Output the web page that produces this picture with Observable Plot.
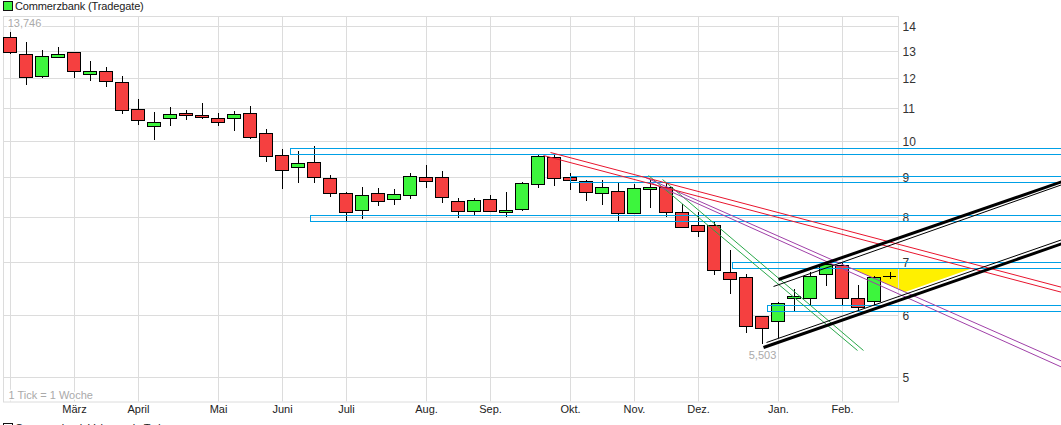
<!DOCTYPE html>
<html><head><meta charset="utf-8">
<script src="https://cdn.jsdelivr.net/npm/d3@7"></script>
<script src="https://cdn.jsdelivr.net/npm/@observablehq/plot@0.6"></script>
<style>
html,body{margin:0;padding:0;background:#fff;overflow:hidden;font-family:"Liberation Sans",Arial,sans-serif}
.lg{height:14px;position:relative;font-size:11px;line-height:13px;color:#222;white-space:nowrap}
.lg i{position:absolute;left:3px;top:1px;width:8px;height:8px;border:1px solid #111;background:#3df53d}
.lg span{position:absolute;left:15px;top:0;letter-spacing:-0.13px}
#cap{height:4px;overflow:hidden}
#cap i{top:2px;background:#fff}
#cap span{top:1px}
svg{display:block}
</style></head><body>
<div class="lg"><i></i><span>Commerzbank (Tradegate)</span></div>
<div id="chart"></div>
<div class="lg" id="cap"><i></i><span>Commerzbank Volumen in Tsd.</span></div>
<script>
// weekly candles
const open=[13.540,12.881,12.098,12.791,12.957,12.147,12.255,11.866,10.963,10.429,
10.677,10.835,10.771,10.677,10.677,10.835,10.217,9.579,9.248,9.384,
8.954,8.569,8.152,8.569,8.420,8.519,8.981,8.981,8.370,8.128,
8.420,8.105,8.176,8.798,9.523,8.981,8.876,8.569,8.619,8.081,
8.670,8.721,8.105,7.801,7.801,6.797,6.698,5.974,5.887,6.298,
6.298,6.757,6.938,6.298,6.243,6.730];
const close=[12.980,12.041,12.806,12.881,12.255,12.255,11.901,10.930,10.615,10.552,
10.803,10.771,10.708,10.552,10.803,10.098,9.551,9.167,9.357,8.981,
8.569,8.105,8.519,8.370,8.544,9.007,8.876,8.469,8.128,8.395,
8.128,8.152,8.824,9.551,8.954,8.902,8.594,8.721,8.081,8.696,
8.721,8.105,7.769,7.665,6.837,6.659,5.802,5.768,6.206,6.335,
6.718,6.958,6.298,6.134,6.698,6.730];
const high=[13.746,13.354,13.045,13.160,12.957,12.631,12.410,12.087,11.299,10.876,
11.037,10.940,11.167,10.844,10.908,11.059,10.347,9.758,9.701,9.844,
9.041,8.594,8.721,8.696,8.670,9.095,9.310,9.140,8.444,8.444,
8.519,8.594,8.850,9.588,9.607,9.087,8.902,8.902,8.840,8.798,
8.910,8.824,8.297,8.119,7.870,7.256,6.757,5.974,6.225,6.472,
6.797,7.012,6.979,6.548,6.718,6.809];
const low=[12.904,11.783,12.016,12.753,12.016,11.922,11.703,10.822,10.469,10.019,
10.439,10.633,10.664,10.448,10.296,10.048,9.401,8.678,8.840,8.840,
8.484,7.907,7.954,8.263,8.287,8.434,8.711,8.336,7.977,8.048,
8.105,8.001,8.143,8.711,8.747,8.660,8.385,8.287,7.907,8.057,
8.215,8.001,7.747,7.545,6.749,6.384,5.694,5.503,5.601,6.062,
6.170,6.529,6.152,6.086,6.170,6.659];
const yTicks=[5,6,7,8,9,10,11,12,13,14];
const xGrid=[0,4,8,13,17,21,26,30,35,39,43,48,52];
const xTickAt=[4,8,13,17,21,26,30,35,39,43,48,52];
const xTickLabels=["März","April","Mai","Juni","Juli","Aug.","Sep.","Okt.","Nov.","Dez.","Jan.","Feb."];
const priceDomain=[4.6534,14.4123], indexDomain=[-0.4375,55.5], rightEnd=65.75;
// horizontal support / resistance bands: start index, upper, lower
const bands=[[17.5,9.778,9.607],[35,9.007,8.850],[18.75,8.034,7.893],[45.125,6.999,6.877],[47.313,6.170,6.062]];
// trend lines: x1,y1,x2,y2
const redLines=[[33.75,9.664,65.75,6.516],[33.313,9.588,65.75,6.421]];
const purpleLines=[[39.688,8.989,65.75,5.245],[40,8.858,65.75,5.153]];
const greenLines=[[40.75,8.928,53.313,5.407],[39.875,9.041,52.938,5.412]];
const blackThick=[[48,6.659,65.75,8.884],[47.063,5.465,65.75,7.413]];
const blackThin=[[47.688,6.535,65.75,8.798],[47.25,5.545,65.75,7.501]];
const triX=[52.563,55.938,60.188], triTop=[6.877,6.877,6.877], triBottom=[6.877,6.415,6.877];

const candles=open.map((o,i)=>({i,o,c:close[i],h:high[i],l:low[i]}));
const seg=(a,stroke,w)=>Plot.link(a,{x1:d=>d[0],y1:d=>d[1],x2:d=>d[2],y2:d=>d[3],stroke,strokeWidth:w,strokeOpacity:1});
const left=7/16,right=6/16;
const notes=[
 {x:0.9,y:14.13,t:"13,746",a:"middle"},
 {x:47,y:5.333,t:"5,503",a:"middle"},
 {x:-0.125,y:4.745,t:"1 Tick = 1 Woche",a:"start"}];
const chart=Plot.plot({
  width:1061,height:407,
  marginLeft:3,marginRight:163,marginTop:2,marginBottom:19.5,
  style:{fontFamily:'"Liberation Sans",Arial,sans-serif',background:"#fff"},
  x:{domain:indexDomain,axis:null,round:true},
  y:{type:"log",domain:priceDomain,axis:null,round:true},
  marks:[
    Plot.areaY(triX.map((x,k)=>({x,a:triTop[k],b:triBottom[k]})),{x:"x",y1:"a",y2:"b",fill:"#fff000"}),
    Plot.gridY(yTicks,{stroke:"#dcdcdc",strokeOpacity:1}),
    Plot.gridX(xGrid,{stroke:"#dcdcdc",strokeOpacity:1}),
    Plot.frame({stroke:"#dcdcdc"}),
    Plot.axisY(yTicks,{anchor:"right",tickSize:0,tickPadding:4,dy:1,tickFormat:d=>String(d),fontSize:12,color:"#333",label:null}),
    Plot.axisX(xTickAt,{anchor:"bottom",tickSize:0,tickPadding:3,tickFormat:d=>xTickLabels[xTickAt.indexOf(d)],fontSize:11,color:"#222",label:null}),
    Plot.text(notes,{x:"x",y:"y",text:"t",textAnchor:"start",filter:d=>d.a==="start",fill:"#aaa",fontSize:11,stroke:"#fff",strokeWidth:3,paintOrder:"stroke"}),
    Plot.text(notes,{x:"x",y:"y",text:"t",filter:d=>d.a==="middle",fill:"#aaa",fontSize:11,stroke:"#fff",strokeWidth:3,paintOrder:"stroke"}),
    Plot.ruleX(candles,{x:"i",y1:"l",y2:"h",stroke:"#000",strokeWidth:1}),
    Plot.rect(candles.filter(d=>d.o!==d.c),{x1:d=>d.i-left,x2:d=>d.i+right,y1:"o",y2:"c",dx:0.5,dy:0.5,fill:d=>d.c>d.o?"#3df53d":"#f54040",stroke:"#000",strokeWidth:1}),
    Plot.ruleY(candles.filter(d=>d.o===d.c),{y:"o",x1:d=>d.i-left,x2:d=>d.i+right,stroke:"#000",strokeWidth:1}),
    Plot.rect(bands,{x1:d=>d[0],x2:()=>rightEnd,y1:d=>d[1],y2:d=>d[2],dx:0.5,dy:0.5,fill:"none",stroke:"#00a0e6",strokeWidth:1}),
    seg(greenLines,"#2aa84a",1),
    seg(purpleLines,"#a040a8",1),
    seg(redLines,"#e8152e",1),
    seg(blackThin,"#000",1),
    seg(blackThick,"#000",3)
  ]
});
document.getElementById("chart").appendChild(chart);
</script></body></html>
